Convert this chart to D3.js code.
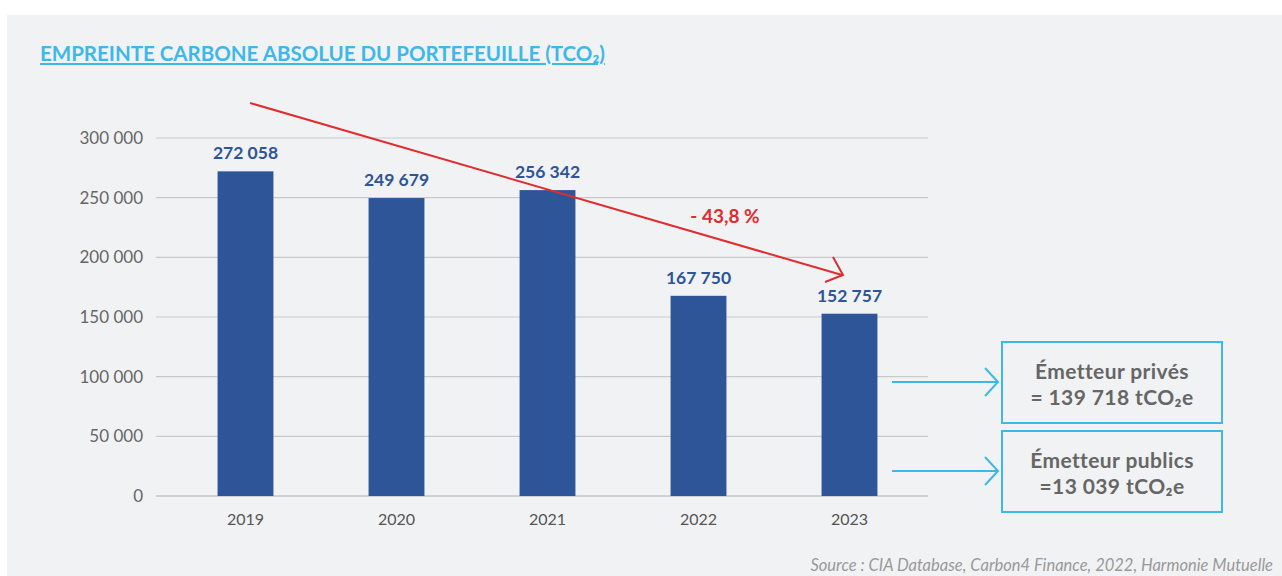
<!DOCTYPE html>
<html>
<head>
<meta charset="utf-8">
<script src="https://cdn.jsdelivr.net/npm/d3@7"></script>
<style>
  body { margin: 0; background: #fff; }
  svg { display: block; font-family: Lato, "Open Sans", sans-serif; }
</style>
</head>
<body>
<div id="chart"></div>
<script>
const years = ["2019", "2020", "2021", "2022", "2023"];
const values = [272058, 249679, 256342, 167750, 152757];
const yTicks = [0, 50000, 100000, 150000, 200000, 250000, 300000];
const boxLines = [
  ["Émetteur privés", "= 139 718 tCO₂e"],
  ["Émetteur publics", "=13 039 tCO₂e"]
];
const changeLabel = "- 43,8 %";

const W = 1282, H = 576;
const fmt = v => d3.format(",")(v).replace(/,/g, " ");

const svg = d3.select("#chart").append("svg")
  .attr("width", W).attr("height", H);

// gray panel
svg.append("rect").attr("x", 7).attr("y", 15).attr("width", W - 7).attr("height", H - 15)
  .attr("fill", "#f1f2f4");

// title
svg.append("text")
  .attr("x", 40).attr("y", 61)
  .attr("fill", "#3db8e8")
  .style("font-size", "20.5px").style("font-weight", 700)
  .style("text-decoration", "underline")
  .text("EMPREINTE CARBONE ABSOLUE DU PORTEFEUILLE (TCO₂)");

const x = d3.scaleBand().domain(years).range([170, 925]).paddingInner(0.63).paddingOuter(0.315);
const y = d3.scaleLinear().domain([0, 300000]).range([496, 138]);

// grid
svg.append("g").selectAll("line").data(yTicks).join("line")
  .attr("x1", 156).attr("x2", 928)
  .attr("y1", d => y(d)).attr("y2", d => y(d))
  .attr("stroke", d => d === 0 ? "#b0b0b0" : "#c8c9cb").attr("stroke-width", 1.2);

// y axis labels
const yAxis = svg.append("g").attr("transform", "translate(150,0)")
  .call(d3.axisLeft(y).tickValues(yTicks).tickSize(0).tickPadding(7).tickFormat(fmt));
yAxis.select(".domain").remove();
yAxis.selectAll("text").attr("fill", "#666").style("font-size", "17px")
  .style("font-family", "Lato, sans-serif");

// x axis labels
const xAxis = svg.append("g").attr("transform", "translate(0,496)")
  .call(d3.axisBottom(x).tickSize(0).tickPadding(18));
xAxis.select(".domain").remove();
xAxis.selectAll("text").attr("fill", "#555").style("font-size", "16px")
  .style("font-family", "Lato, sans-serif");

// bars
svg.append("g").selectAll("rect").data(values).join("rect")
  .attr("x", (d, i) => x(years[i]))
  .attr("width", x.bandwidth())
  .attr("y", d => y(d))
  .attr("height", d => y(0) - y(d))
  .attr("fill", "#2d5597");

svg.append("g").selectAll("text").data(values).join("text")
  .attr("x", (d, i) => x(years[i]) + x.bandwidth() / 2)
  .attr("y", d => y(d) - 12)
  .attr("text-anchor", "middle")
  .attr("fill", "#2d5597")
  .style("font-size", "17.5px").style("font-weight", 700)
  .text(fmt);

// red trend arrow
const red = "#e02b2f";
svg.append("line")
  .attr("x1", 250).attr("y1", 103).attr("x2", 842).attr("y2", 275)
  .attr("stroke", red).attr("stroke-width", 2);
svg.append("path")
  .attr("d", "M833,257 L843,275 L825,282")
  .attr("fill", "none").attr("stroke", red).attr("stroke-width", 2);
svg.append("text")
  .attr("x", 725).attr("y", 223).attr("text-anchor", "middle")
  .attr("fill", red).style("font-size", "19px").style("font-weight", 700)
  .text(changeLabel);

// side boxes
const cyan = "#3db8e8";
const boxY = [342, 431];
boxLines.forEach((lines, i) => {
  const by = boxY[i];
  const ay = by + 40;
  svg.append("line").attr("x1", 892).attr("x2", 998).attr("y1", ay).attr("y2", ay)
    .attr("stroke", cyan).attr("stroke-width", 2);
  svg.append("path").attr("d", `M985,${ay - 14} L998,${ay} L985,${ay + 14}`)
    .attr("fill", "none").attr("stroke", cyan).attr("stroke-width", 2);
  svg.append("rect").attr("x", 1002).attr("y", by).attr("width", 220).attr("height", 81)
    .attr("fill", "none").attr("stroke", cyan).attr("stroke-width", 2);
  lines.forEach((t, j) => {
    svg.append("text")
      .attr("x", 1112).attr("y", by + 37 + j * 26)
      .attr("text-anchor", "middle")
      .attr("fill", "#666")
      .style("font-size", "21px").style("font-weight", 700)
      .style("letter-spacing", "0.4px")
      .text(t);
  });
});

// source
svg.append("text")
  .attr("x", 1273).attr("y", 571).attr("text-anchor", "end")
  .attr("fill", "#999").style("font-size", "16.5px").style("font-style", "italic")
  .text("Source : CIA Database, Carbon4 Finance, 2022, Harmonie Mutuelle");
</script>
</body>
</html>
